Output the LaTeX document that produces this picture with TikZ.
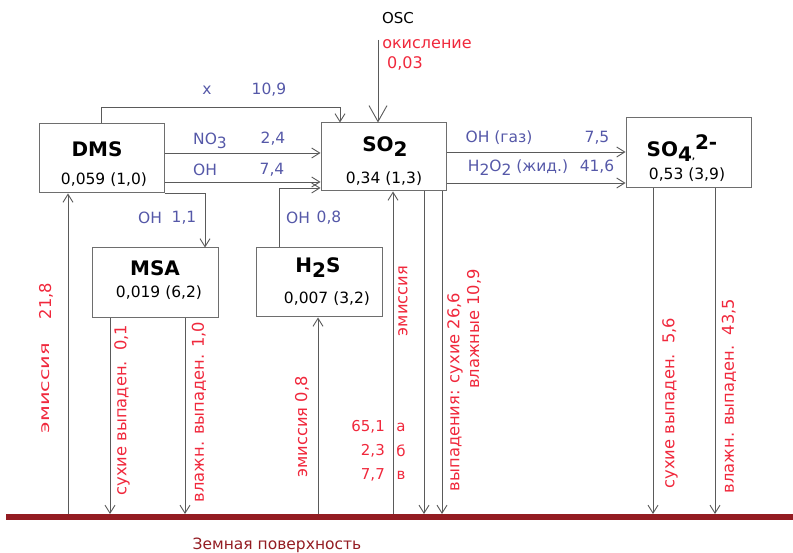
\documentclass[tikz,border=0pt]{standalone}
\usepackage{fontspec}
\setmainfont{DejaVu Sans}
\usetikzlibrary{arrows.meta}
\definecolor{lnc}{HTML}{5A5A5A}
\definecolor{bxc}{HTML}{6E6E6E}
\definecolor{lblue}{HTML}{5558A8}
\definecolor{lred}{HTML}{F0283C}
\definecolor{earth}{HTML}{931C22}
\newcommand{\fsz}[1]{\fontsize{#1}{#1}\selectfont}
\begin{document}
\begin{tikzpicture}[x=1pt,y=-1pt,
 boxst/.style={draw=bxc, line width=1pt, inner sep=0pt, fill=white},
 arr/.style={draw=lnc, line width=0.9pt, -{Straight Barb[length=8pt,width=10pt,line width=0.9pt]}},
 bigarr/.style={draw=lnc, line width=0.9pt, -{Straight Barb[length=16pt,width=18pt,line width=0.9pt]}},
 bl/.style={text=lblue, font=\fsz{15.5}, inner sep=0pt},
 rd/.style={text=lred, font=\fsz{15}, inner sep=0pt},
 val/.style={text=black, font=\fsz{15.5}, inner sep=0pt},
 ttl/.style={text=black, font=\bfseries\fsz{20}, inner sep=0pt},
 vrd/.style={text=lred, font=\fsz{16.3}, inner sep=0pt, rotate=90},
]
\useasboundingbox (0,0) rectangle (793,553);
% boxes
\node[boxst, minimum width=125pt, minimum height=69pt] (dms) at (101.5,158.5) {};
\node[boxst, minimum width=125pt, minimum height=68pt] (so2) at (383.5,157) {};
\node[boxst, minimum width=126pt, minimum height=70pt] (msa) at (155,283) {};
\node[boxst, minimum width=126pt, minimum height=69pt] (h2s) at (319,282.5) {};
\node[boxst, minimum width=125pt, minimum height=70pt] (so4) at (688.5,153) {};
% titles and values
\node[ttl] (tdms) at (97,149) {DMS};
\node[val] (vdms) at (104,180) {0,059 (1,0)};
\node[ttl] (tso2) at (385,147) {SO\raisebox{-5pt}{2}};
\node[val] (vso2) at (384,179) {0,34 (1,3)};
\node[ttl] (tmsa) at (155,268) {MSA};
\node[val] (vmsa) at (159,293) {0,019 (6,2)};
\node[ttl] (th2s) at (318,268) {H\raisebox{-5pt}{2}S};
\node[val] (vh2s) at (327,299) {0,007 (3,2)};
\node[ttl] (tso4) at (682,148) {SO\raisebox{-5pt}{4}\raisebox{-3pt}{\fsz{8},}\raisebox{7pt}{2-}};
\node[val] (vso4) at (687,175) {0,53 (3,9)};
% ground
\draw[earth, line width=6pt] (6,517) -- (793,517);
\node[text=earth, font=\fsz{15.5}, inner sep=0pt] (earthlbl) at (277,545) {Земная поверхность};
% ground coordinates
\coordinate (gA) at (68,514);
\coordinate (gB) at (110,514);
\coordinate (gC) at (185,514);
\coordinate (gD) at (318,514);
\coordinate (gE) at (393,514);
\coordinate (gF) at (424,514);
\coordinate (gG) at (442,514);
\coordinate (gH) at (653,514);
\coordinate (gI) at (715,514);
\draw[arr] (gA) -- (dms.south -| gA);
\draw[arr] (msa.south -| gB) -- (gB);
\draw[arr] (msa.south -| gC) -- (gC);
\draw[arr] (gD) -- (h2s.south -| gD);
\draw[arr] (gE) -- (so2.south -| gE);
\draw[arr] (so2.south -| gF) -- (gF);
\draw[arr] (so2.south -| gG) -- (gG);
\draw[arr] (so4.south -| gH) -- (gH);
\draw[arr] (so4.south -| gI) -- (gI);
% horizontal connectors
\coordinate (osc) at (378,40);
\draw[bigarr] (osc) -- (so2.north -| osc);
\coordinate (tA) at (101,107);
\coordinate (tB) at (340,107);
\draw[arr] (dms.north -| tA) -- (tA) -- (tB) -- (so2.north -| tB);
\coordinate (yN) at (0,153);
\coordinate (yO) at (0,182);
\draw[arr] (dms.east |- yN) -- (so2.west |- yN);
\draw[arr] (dms.east |- yO) -- (so2.west |- yO);
\coordinate (mA) at (205,0);
\draw[arr] (dms.south east) -| (msa.north -| mA);
\coordinate (hA) at (279,188);
\draw[arr] (h2s.north -| hA) |- (so2.west |- hA);
\coordinate (yS1) at (0,152);
\coordinate (yS2) at (0,183);
\draw[arr] (so2.east |- yS1) -- (so4.west |- yS1);
\draw[arr] (so2.east |- yS2) -- (so4.west |- yS2);
% OSC labels
\node[text=black, font=\fsz{15}, inner sep=0pt] (losc) at (398,18) {OSC};
\node[rd, font=\fsz{16}] (lok) at (427,44) {окисление};
\node[rd, font=\fsz{16}] (lok2) at (405,63) {0,03};
% blue labels
\node[bl] (lx) at (207,90) {x};
\node[bl] (lx2) at (269,90) {10,9};
\node[bl] (lno) at (210,141) {NO\raisebox{-4pt}{3}};
\node[bl] (lno2) at (273,139) {2,4};
\node[bl] (loh) at (205,170) {OH};
\node[bl] (loh2) at (272,170) {7,4};
\node[bl] (lm) at (150,218) {OH};
\node[bl] (lm2) at (184,218) {1,1};
\node[bl] (lh) at (298,218) {OH};
\node[bl] (lh2) at (329,218) {0,8};
\node[bl] (lg) at (499,138) {OH (газ)};
\node[bl] (lg2) at (597,138) {7,5};
\node[bl] (lq) at (518,168) {H\raisebox{-4pt}{2}O\raisebox{-4pt}{2} (жид.)};
\node[bl] (lq2) at (597,167) {41,6};
% red vertical labels
\node[vrd] (e1) at (46,301) {21,8};
\node[vrd, font=\fsz{14}] (e2) at (46,388) {\scalebox{1.5}[1]{эмиссия}};
\node[vrd] (m1) at (122,410) {сухие выпаден.\ \ 0,1};
\node[vrd] (m2) at (199,412) {влажн. выпаден. 1,0};
\node[vrd] (h1) at (302,427) {эмиссия 0,8};
\node[vrd] (s1) at (403,301) {эмиссия};
\node[rd, anchor=east] (n1) at (385,427) {65,1};
\node[rd, anchor=east] (n2) at (385,451) {2,3};
\node[rd, anchor=east] (n3) at (385,475) {7,7};
\node[rd] (a1) at (401,427) {а};
\node[rd] (a2) at (401,451) {б};
\node[rd] (a3) at (401,475) {в};
\node[vrd] (d1) at (455,392) {выпадения: сухие 26,6};
\node[vrd] (d2) at (474,329) {влажные 10,9};
\node[vrd] (q1) at (670,403) {сухие выпаден.\ \ 5,6};
\node[vrd] (q2) at (729,396) {влажн. выпаден.\ \ 43,5};
\end{tikzpicture}
\end{document}
